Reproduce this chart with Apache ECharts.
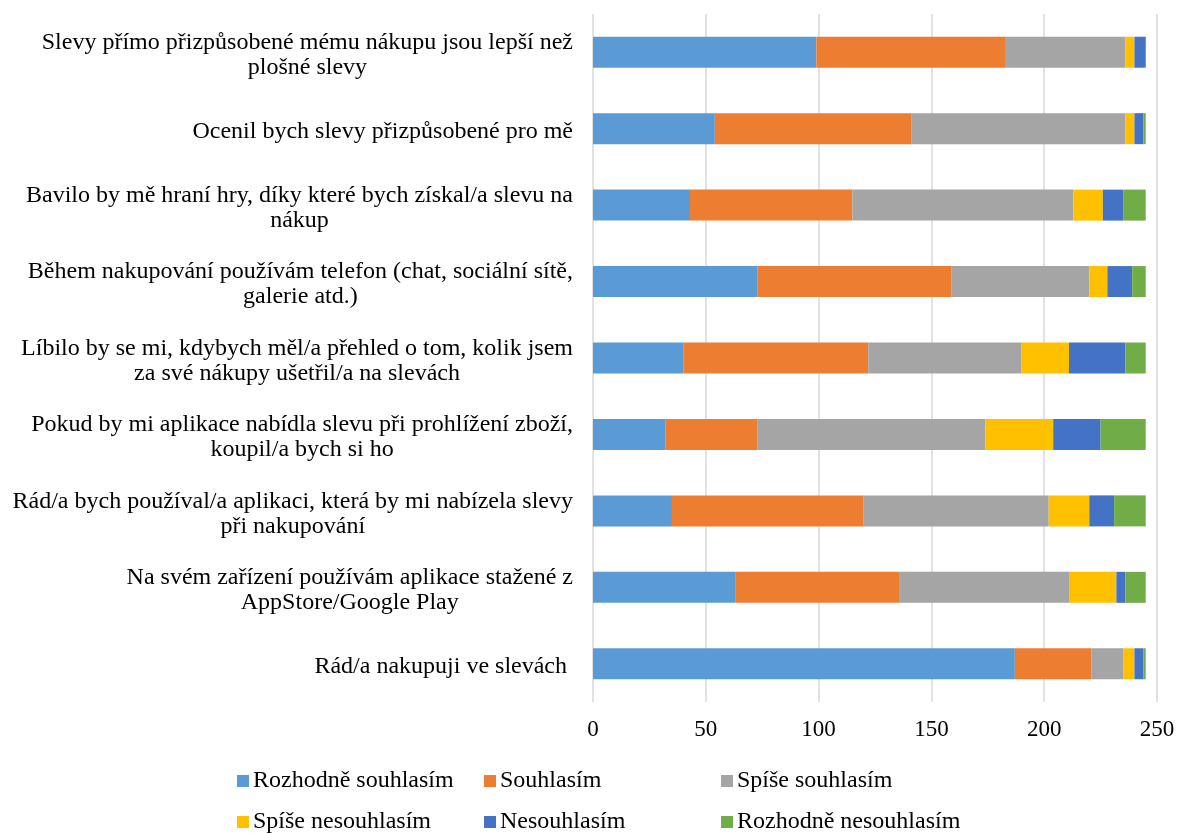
<!DOCTYPE html>
<html>
<head>
<meta charset="utf-8">
<script src="https://cdn.jsdelivr.net/npm/echarts@6/dist/echarts.min.js"></script>
<style>
  html, body { margin: 0; padding: 0; background: #fff; }
  #chart { width: 1178px; height: 833px; }
</style>
</head>
<body>
<div id="chart"></div>
<script>
// otázky, shora dolů
var categories = [
  'Slevy přímo přizpůsobené mému nákupu jsou lepší než\nplošné slevy',
  'Ocenil bych slevy přizpůsobené pro mě',
  'Bavilo by mě hraní hry, díky které bych získal/a slevu na\nnákup',
  'Během nakupování používám telefon (chat, sociální sítě,\ngalerie atd.)',
  'Líbilo by se mi, kdybych měl/a přehled o tom, kolik jsem\nza své nákupy ušetřil/a na slevách',
  'Pokud by mi aplikace nabídla slevu při prohlížení zboží,\nkoupil/a bych si ho',
  'Rád/a bych používal/a aplikaci, která by mi nabízela slevy\npři nakupování',
  'Na svém zařízení používám aplikace stažené z\nAppStore/Google Play',
  'Rád/a nakupuji ve slevách '
];

var seriesNames = ['Rozhodně souhlasím', 'Souhlasím', 'Spíše souhlasím',
  'Spíše nesouhlasím', 'Nesouhlasím', 'Rozhodně nesouhlasím'];

var rozhodneSouhlasim = [99, 54, 43, 73, 40, 32, 35, 63, 187];
var souhlasim = [84, 87, 72, 86, 82, 41, 85, 73, 34];
var spiseSouhlasim = [53, 95, 98, 61, 68, 101, 82, 75, 14];
var spiseNesouhlasim = [4, 4, 13, 8, 21, 30, 18, 21, 5];
var nesouhlasim = [5, 4, 9, 11, 25, 21, 11, 4, 4];
var rozhodneNesouhlasim = [0, 1, 10, 6, 9, 20, 14, 9, 1];

var xTicks = [0, 50, 100, 150, 200, 250];

var colors = ['#5B9BD5', '#ED7D31', '#A5A5A5', '#FFC000', '#4472C4', '#70AD47'];
var font = 'Liberation Serif';

var values = [rozhodneSouhlasim, souhlasim, spiseSouhlasim, spiseNesouhlasim, nesouhlasim, rozhodneNesouhlasim];

var chart = echarts.init(document.getElementById('chart'));

var series = seriesNames.map(function (name, i) {
  return {
    name: name,
    type: 'bar',
    stack: 'total',
    barWidth: 31,
    itemStyle: { color: colors[i] },
    data: values[i]
  };
});

// legenda: 3 sloupce x 2 řádky, každá položka zvlášť
var legendLeft = [237, 484, 721];
var legendTop = [769, 810];
var legends = seriesNames.map(function (name, i) {
  return {
    left: legendLeft[i % 3],
    top: legendTop[Math.floor(i / 3)],
    padding: 0,
    itemWidth: 12,
    itemHeight: 12,
    itemGap: 5,
    icon: 'rect',
    data: [name],
    textStyle: { fontFamily: font, fontSize: 24, lineHeight: 24, color: '#000', padding: [0, 0, 0, -1] }
  };
});

chart.setOption({
  animation: false,
  color: colors,
  grid: { left: 593, right: 21, top: 14, bottom: 131 },
  legend: legends,
  xAxis: {
    type: 'value',
    min: xTicks[0],
    max: xTicks[xTicks.length - 1],
    interval: xTicks[1] - xTicks[0],
    axisLine: { show: false },
    axisTick: { show: false },
    splitLine: { lineStyle: { color: '#d9d9d9', width: 1.5 } },
    axisLabel: { fontFamily: font, fontSize: 23, color: '#000', margin: 16 }
  },
  yAxis: {
    type: 'category',
    inverse: true,
    data: categories,
    axisLine: { show: false },
    axisTick: { show: false },
    axisLabel: {
      margin: 20,
      padding: [6, 0, 0, 0],
      formatter: function (v) {
        return v.split('\n').map(function (s) { return '{c|' + s + '}'; }).join('\n');
      },
      rich: {
        c: { fontFamily: font, fontSize: 24, lineHeight: 25, color: '#000', align: 'center' }
      }
    }
  },
  series: series
});
</script>
</body>
</html>
